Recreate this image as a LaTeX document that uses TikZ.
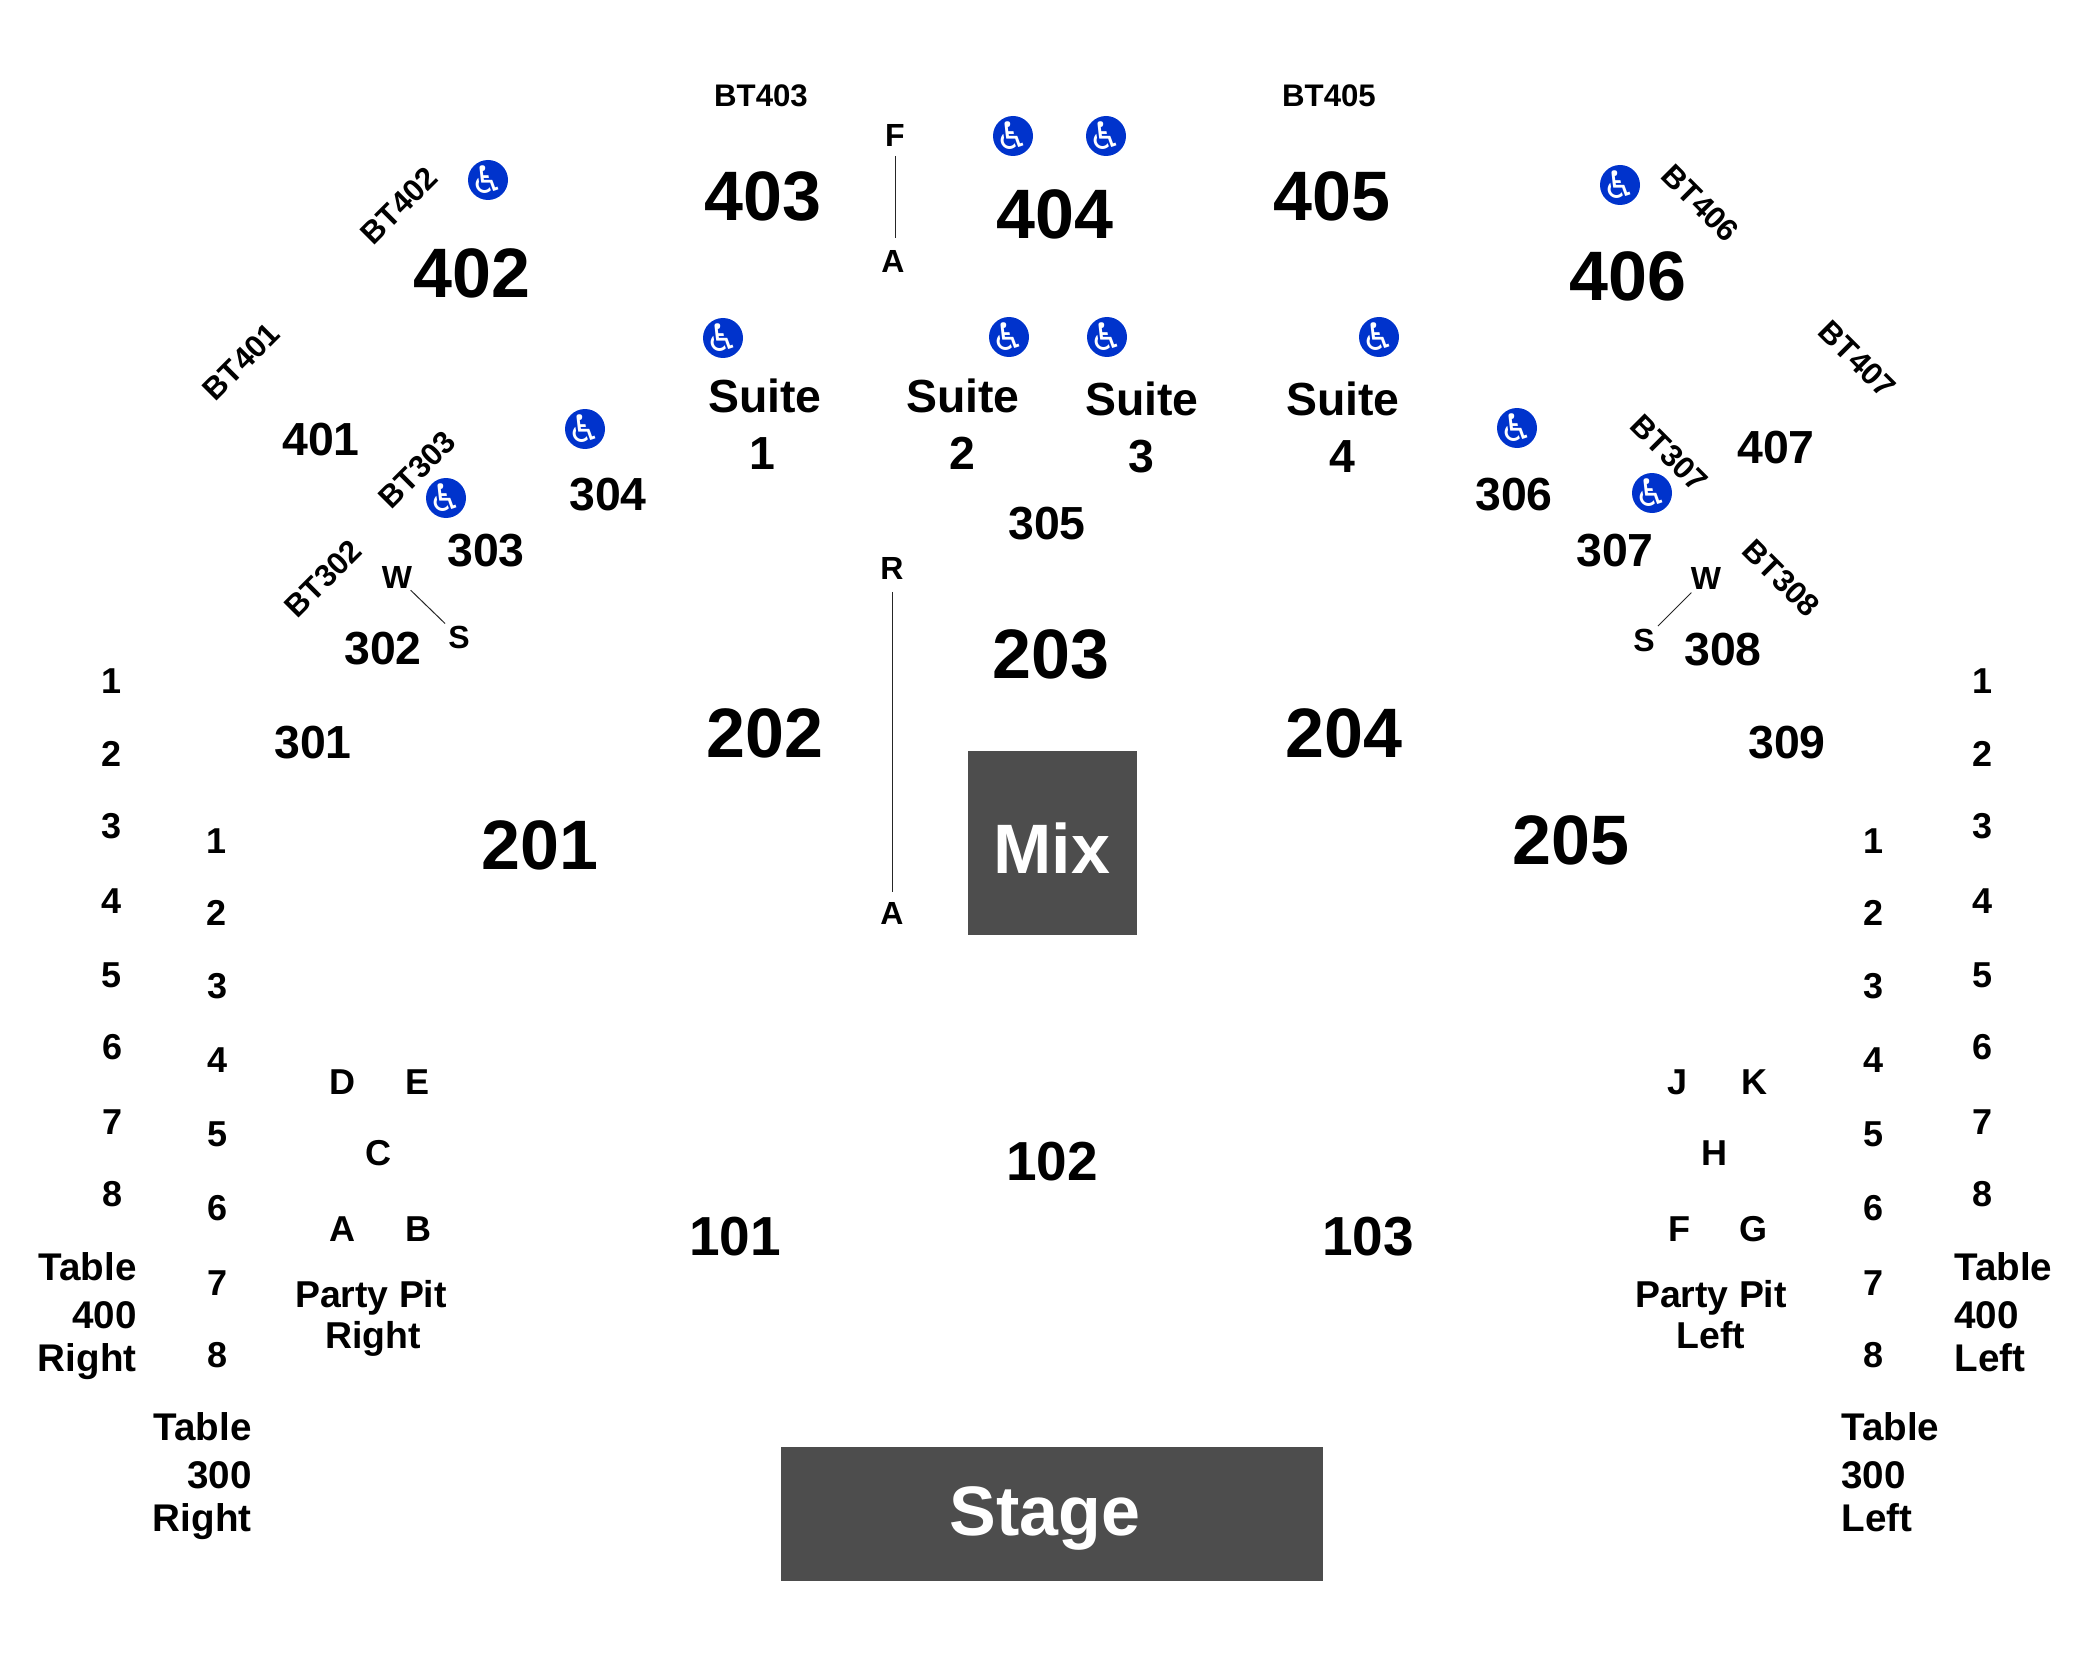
\documentclass[tikz,border=0pt]{standalone}
\usepackage{fontspec}
\setmainfont{Liberation Sans}
\newfontfamily\symbfont{DejaVu Sans}
\definecolor{blockgray}{HTML}{4D4D4D}
\definecolor{accessblue}{HTML}{0033CC}
\tikzset{
	%	all sizes below are for x=0.5pt, one unit being one pixel of the plan
	txt/.style={inner sep=0pt,text depth=0pt,font=\bfseries},
	bigsec/.style={txt,text height=25pt,font=\fontsize{35}{35}\bfseries\selectfont},
	floorsec/.style={txt,text height=19.6pt,font=\fontsize{27.5}{27.5}\bfseries\selectfont},
	midsec/.style={txt,text height=16.6pt,font=\fontsize{23.2}{23.2}\bfseries\selectfont},
	bt/.style={txt,text height=11.2pt,font=\fontsize{15.6}{15.6}\bfseries\selectfont},
	rowlbl/.style={txt,text height=11.4pt,font=\fontsize{16}{16}\bfseries\selectfont},
	numlbl/.style={txt,text height=12.9pt,font=\fontsize{18}{18}\bfseries\selectfont},
	pit/.style={txt,text height=13.4pt,font=\fontsize{18.7}{18.7}\bfseries\selectfont},
	tbl/.style={txt,text height=13.8pt,font=\fontsize{19.3}{19.3}\bfseries\selectfont},
	block/.style={fill=blockgray,draw=none,inner sep=0pt},
	blocktxt/.style={txt,text=white,text height=25pt,font=\fontsize{35}{35}\bfseries\selectfont},
	access/.style={circle,fill=accessblue,text=white,minimum size=20pt,inner sep=-6pt,font=\symbfont\fontsize{19}{19}\selectfont},
	aisle/.style={line width=0.5pt,draw=black!85}
}

\begin{document}
\begin{tikzpicture}[x=0.5pt,y=-0.5pt]
	\useasboundingbox (0,0) rectangle (2100,1680);
	
	\node[block,minimum width=84.5pt,minimum height=92pt] (mixbox) at (1052.5,843) {};
	\node[block,minimum width=271pt,minimum height=67pt] (stagebox) at (1052,1514) {};
	\node[blocktxt] (mix) at (1052,848) {Mix};
	\node[blocktxt] (stage) at (1045,1510) {Stage};
	
	\node[bigsec] (s403) at (763,196) {403};
	\node[bigsec] (s404) at (1055,214) {404};
	\node[bigsec] (s405) at (1332,196) {405};
	\node[bigsec] (s402) at (472,273) {402};
	\node[bigsec] (s406) at (1628,276) {406};
	\node[bigsec] (s202) at (765,732) {202};
	\node[bigsec] (s203) at (1051,653) {203};
	\node[bigsec] (s204) at (1344,732) {204};
	\node[bigsec] (s201) at (540,844) {201};
	\node[bigsec] (s205) at (1571,839) {205};
	
	\node[floorsec] (s102) at (1052,1161) {102};
	\node[floorsec] (s101) at (735,1236) {101};
	\node[floorsec] (s103) at (1368,1236) {103};
	
	\node[midsec] (s401) at (321,439) {401};
	\node[midsec] (s407) at (1776,447) {407};
	\node[midsec] (s304) at (608,494) {304};
	\node[midsec] (s303) at (486,550) {303};
	\node[midsec] (s302) at (383,648) {302};
	\node[midsec] (s301) at (313,742) {301};
	\node[midsec] (s305) at (1047,523) {305};
	\node[midsec] (s306) at (1514,494) {306};
	\node[midsec] (s307) at (1615,550) {307};
	\node[midsec] (s308) at (1723,649) {308};
	\node[midsec] (s309) at (1787,742) {309};
	
	\node[midsec] (suite1) at (765,396) {Suite};
	\node[midsec] (suite1n) at (762,453) {1};
	\node[midsec] (suite2) at (963,396) {Suite};
	\node[midsec] (suite2n) at (962,453) {2};
	\node[midsec] (suite3) at (1142,399) {Suite};
	\node[midsec] (suite3n) at (1141,456) {3};
	\node[midsec] (suite4) at (1343,399) {Suite};
	\node[midsec] (suite4n) at (1342,456) {4};
	
	\node[bt] (bt403) at (761,95) {BT403};
	\node[bt] (bt405) at (1329,95) {BT405};
	\node[bt,rotate=45] (bt402) at (399,205) {BT402};
	\node[bt,rotate=45] (bt401) at (241,361) {BT401};
	\node[bt,rotate=45] (bt303) at (417,469) {BT303};
	\node[bt,rotate=45] (bt302) at (323,578) {BT302};
	\node[bt,rotate=-45] (bt406) at (1701,203) {BT406};
	\node[bt,rotate=-45] (bt407) at (1858,359) {BT407};
	\node[bt,rotate=-45] (bt307) at (1670,453) {BT307};
	\node[bt,rotate=-45] (bt308) at (1782,578) {BT308};
	
	\node[rowlbl] (rowF) at (895,135) {F};
	\node[rowlbl] (rowA) at (893,261) {A};
	\node[rowlbl] (rowR) at (892,568) {R};
	\node[rowlbl] (rowAb) at (892,913) {A};
	\node[rowlbl] (rowWl) at (397,577) {W};
	\node[rowlbl] (rowSl) at (459,637) {S};
	\node[rowlbl] (rowWr) at (1706,578) {W};
	\node[rowlbl] (rowSr) at (1644,640) {S};
	
	\draw[aisle,shorten <=4.5pt,shorten >=11.5pt] (rowF) to (rowF |- rowA);
	\draw[aisle,shorten <=6pt,shorten >=10.5pt] (rowR) to (rowR |- rowAb);
	\draw[aisle,shorten <=1pt,shorten >=2pt] (rowWl) to (rowSl);
	\draw[aisle,shorten <=2pt,shorten >=2pt] (rowWr) to (rowSr);
	
	\node[access] (wc1) at (488,180) {♿};
	\node[access] (wc2) at (723,338) {♿};
	\node[access] (wc3) at (585,429) {♿};
	\node[access] (wc4) at (446,498) {♿};
	\node[access] (wc5) at (1013,136) {♿};
	\node[access] (wc6) at (1106,136) {♿};
	\node[access] (wc7) at (1009,337) {♿};
	\node[access] (wc8) at (1107,337) {♿};
	\node[access] (wc9) at (1379,337) {♿};
	\node[access] (wc10) at (1620,185) {♿};
	\node[access] (wc11) at (1517,428) {♿};
	\node[access] (wc12) at (1652,493) {♿};
	
	\node[numlbl] (ptD) at (342,1082) {D};
	\node[numlbl] (ptE) at (418,1082) {E};
	\node[numlbl] (ptC) at (378,1153) {C};
	\node[numlbl] (ptA) at (342,1229) {A};
	\node[numlbl] (ptB) at (418,1229) {B};
	\node[numlbl] (ptJ) at (1677,1082) {J};
	\node[numlbl] (ptK) at (1754,1082) {K};
	\node[numlbl] (ptH) at (1714,1153) {H};
	\node[numlbl] (ptF) at (1679,1229) {F};
	\node[numlbl] (ptG) at (1753,1229) {G};
	
	\node[pit] (pitR) at (371,1294) {Party Pit};
	\node[pit] (pitRb) at (373,1335) {Right};
	\node[pit] (pitL) at (1711,1294) {Party Pit};
	\node[pit] (pitLb) at (1711,1335) {Left};
	
	\node[numlbl] (ta1) at (112,681) {1};
	\node[numlbl] (ta2) at (112,754) {2};
	\node[numlbl] (ta3) at (112,826) {3};
	\node[numlbl] (ta4) at (112,901) {4};
	\node[numlbl] (ta5) at (112,975) {5};
	\node[numlbl] (ta6) at (113,1047) {6};
	\node[numlbl] (ta7) at (113,1122) {7};
	\node[numlbl] (ta8) at (113,1194) {8};
	
	\node[numlbl] (tb1) at (217,841) {1};
	\node[numlbl] (tb2) at (217,913) {2};
	\node[numlbl] (tb3) at (218,986) {3};
	\node[numlbl] (tb4) at (218,1060) {4};
	\node[numlbl] (tb5) at (218,1134) {5};
	\node[numlbl] (tb6) at (218,1208) {6};
	\node[numlbl] (tb7) at (218,1283) {7};
	\node[numlbl] (tb8) at (218,1355) {8};
	
	\node[numlbl] (tc1) at (1873,841) {1};
	\node[numlbl] (tc2) at (1873,913) {2};
	\node[numlbl] (tc3) at (1873,986) {3};
	\node[numlbl] (tc4) at (1873,1060) {4};
	\node[numlbl] (tc5) at (1873,1134) {5};
	\node[numlbl] (tc6) at (1873,1208) {6};
	\node[numlbl] (tc7) at (1873,1283) {7};
	\node[numlbl] (tc8) at (1873,1355) {8};
	
	\node[numlbl] (td1) at (1982,681) {1};
	\node[numlbl] (td2) at (1982,754) {2};
	\node[numlbl] (td3) at (1982,826) {3};
	\node[numlbl] (td4) at (1982,901) {4};
	\node[numlbl] (td5) at (1982,975) {5};
	\node[numlbl] (td6) at (1982,1047) {6};
	\node[numlbl] (td7) at (1982,1122) {7};
	\node[numlbl] (td8) at (1982,1194) {8};
	
	\node[tbl,anchor=east] (t400r) at (137,1267) {Table};
	\node[tbl,anchor=east] (t400rn) at (137,1315) {400};
	\node[tbl,anchor=east] (t400rb) at (137,1358) {Right};
	\node[tbl,anchor=east] (t300r) at (252,1427) {Table};
	\node[tbl,anchor=east] (t300rn) at (252,1475) {300};
	\node[tbl,anchor=east] (t300rb) at (252,1518) {Right};
	\node[tbl,anchor=west] (t400l) at (1954,1267) {Table};
	\node[tbl,anchor=west] (t400ln) at (1954,1315) {400};
	\node[tbl,anchor=west] (t400lb) at (1954,1358) {Left};
	\node[tbl,anchor=west] (t300l) at (1841,1427) {Table};
	\node[tbl,anchor=west] (t300ln) at (1841,1475) {300};
	\node[tbl,anchor=west] (t300lb) at (1841,1518) {Left};
\end{tikzpicture}
\end{document}
